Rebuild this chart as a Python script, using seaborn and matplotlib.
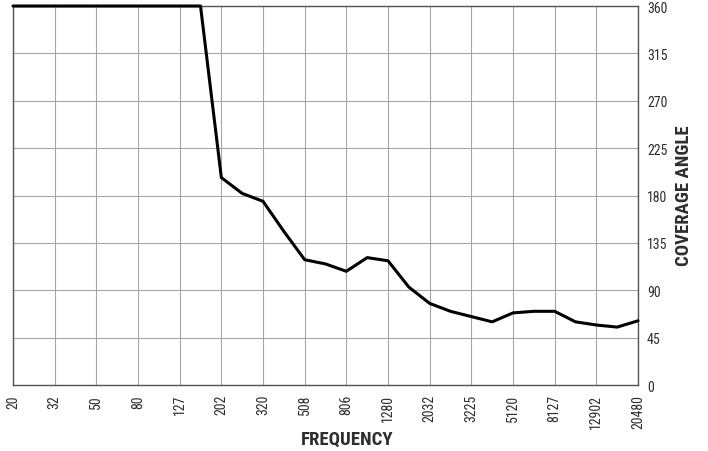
import matplotlib

matplotlib.use("Agg")
import matplotlib.pyplot as plt
import pandas as pd
import seaborn as sns

# 1/3-octave frequencies (Hz)
freqs = [20, 25.2, 31.7, 40, 50.4, 63.5, 80, 100.8, 127, 160,
         201.6, 254, 320, 403, 508, 640, 806, 1016, 1280, 1613,
         2032, 2560, 3225, 4064, 5120, 6451, 8127, 10240, 12902, 16255, 20480]
# coverage angle (degrees)
angles = [360, 360, 360, 360, 360, 360, 360, 360, 360, 360,
          197, 182, 174.5, 146, 119, 115, 108, 121, 118, 93,
          77.5, 70, 65, 60, 68.5, 70, 70, 60, 57, 55, 61]

tick_freqs = [20, 31.7, 50.4, 80, 127, 201.6, 320, 508, 806, 1280,
              2032, 3225, 5120, 8127, 12902, 20480]
tick_labels = ["20", "32", "50", "80", "127", "202", "320", "508", "806", "1280",
               "2032", "3225", "5120", "8127", "12902", "20480"]
angle_ticks = [0, 45, 90, 135, 180, 225, 270, 315, 360]

sns.set_style("white")
plt.rcParams["font.family"] = ["Roboto Condensed", "Liberation Sans Narrow", "Liberation Sans", "DejaVu Sans"]

df = pd.DataFrame({"frequency": freqs, "angle": angles})

fig = plt.figure(figsize=(7.08, 4.52), dpi=100)
ax = fig.add_axes([0.0184, 0.146, 0.8827, 0.8385])

sns.lineplot(data=df, x="frequency", y="angle", color="black", linewidth=2.2, ax=ax, clip_on=False, zorder=5)

ax.set_xscale("log")
ax.set_xlim(20, 20480)
ax.set_ylim(0, 360)
ax.set_xticks(tick_freqs)
ax.set_xticklabels(tick_labels, rotation=90)
ax.minorticks_off()
ax.set_yticks(angle_ticks)

ax.yaxis.tick_right()
ax.yaxis.set_label_position("right")
ax.tick_params(axis="both", length=0, labelsize=10, labelcolor="#2e2e2e")
ax.tick_params(axis="x", pad=6.5)
ax.tick_params(axis="y", pad=6.5)

ax.grid(True, color="#a6a6a6", linewidth=0.8)
for s in ax.spines.values():
    s.set_visible(True)
    s.set_color("#555555")
    s.set_linewidth(1.0)

ax.set_xlabel("FREQUENCY", fontsize=13.5, fontweight="bold", color="#2e2e2e", va="center", ha="center")
ax.xaxis.set_label_coords(0.534, -0.1425)
ax.set_ylabel("COVERAGE ANGLE", fontsize=13.5, fontweight="bold", color="#2e2e2e", va="center", ha="center")
ax.yaxis.set_label_coords(1.0744, 0.501)

fig.savefig("out.png", dpi=100)
